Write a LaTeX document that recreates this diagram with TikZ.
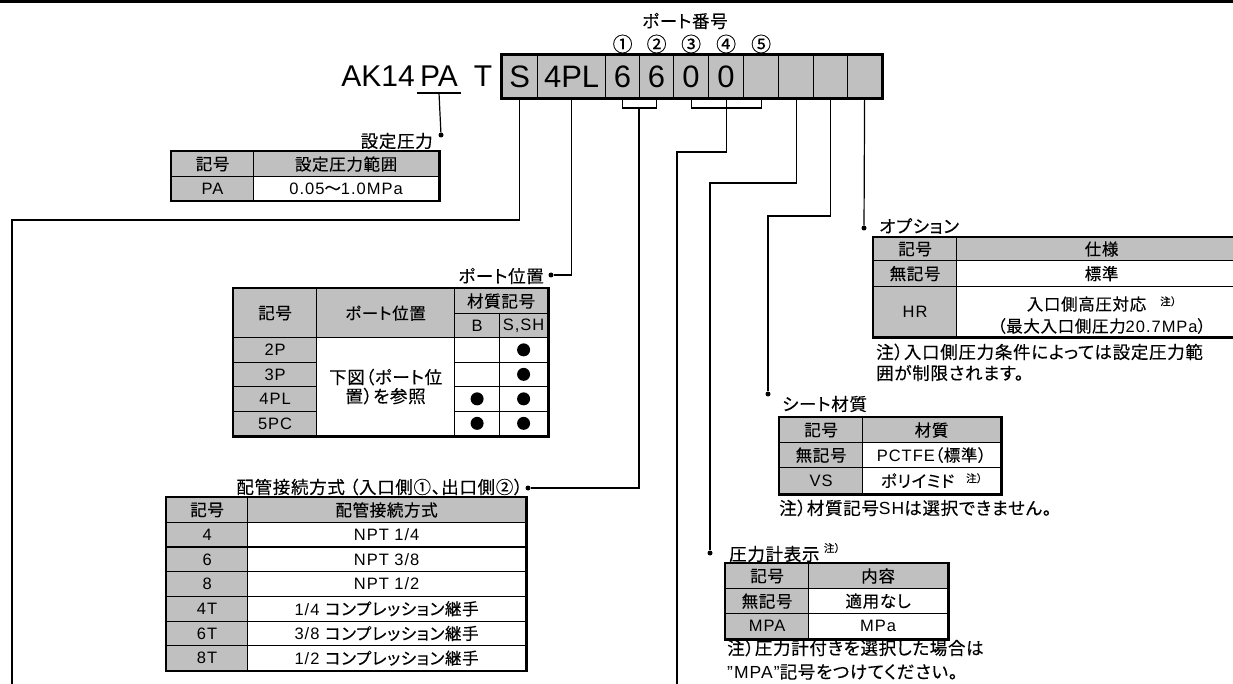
\documentclass[tikz,border=0pt]{standalone}
\usepackage{fontspec}
\setmainfont{Liberation Sans}[LetterSpace=6]
\newfontfamily\jp{Noto Sans CJK JP}[LetterSpace=4, RawFeature=+palt, FakeBold=0.3]
\newfontfamily\codefont{Liberation Sans}
\usetikzlibrary{positioning, calc}
\definecolor{boxgray}{HTML}{C0C0C0}

\begin{document}
\begin{tikzpicture}[
    x=1pt, y=-1pt,
    font=\fontsize{16.5}{20}\selectfont,
    hd/.style={draw, fill=boxgray, line width=1.2pt, inner sep=0pt, anchor=north west},
    td/.style={hd, fill=white},
    frame/.style={draw, line width=2.6pt},
    wire/.style={line width=1.2pt},
    blob/.style={circle, fill, inner sep=0pt, minimum size=13pt},
    pin/.style={circle, fill, inner sep=0pt, minimum size=5pt},
    lbl/.style={inner sep=0pt, font=\fontsize{17.5}{20}\selectfont\jp},
    note/.style={inner sep=0pt, font=\fontsize{10.5}{10}\selectfont\jp},
    code/.style={hd, minimum height=42pt, font=\fontsize{31}{31}\selectfont\codefont},
    big/.style={inner sep=0pt, anchor=base, font=\fontsize{30}{30}\selectfont\codefont},
]
\clip (0,0) rectangle (1233,684);
\fill (0,0) rectangle (1233,3);

% model code
\node[big] (ak) at (378,87) {AK14};
\node[big] (pa) at (439,87) {PA};
\node[big] (tt) at (483,87) {T};
\node[code, minimum width=36pt] (cs) at (501,55) {S};
\node[code, minimum width=68pt] (c4pl) at (537,55) {4PL};
\node[code, minimum width=34pt] (c1) at (605,55) {6};
\node[code, minimum width=34pt] (c2) at (639,55) {6};
\node[code, minimum width=35pt] (c3) at (673,55) {0};
\node[code, minimum width=35pt] (c4) at (708,55) {0};
\node[code, minimum width=35pt] (c5) at (743,55) {};
\node[code, minimum width=35pt] (c6) at (778,55) {};
\node[code, minimum width=34pt] (c7) at (813,55) {};
\node[code, minimum width=34pt] (c8) at (847,55) {};
\draw[line width=3pt] (cs.north west) rectangle (c8.south east);

\node[lbl] (tnum) at (685,21) {ポート番号};
\node[lbl, font=\fontsize{20}{20}\selectfont\jp] (n1) at (c1 |- 0,44) {①};
\node[lbl, font=\fontsize{20}{20}\selectfont\jp] (n2) at (c2 |- 0,44) {②};
\node[lbl, font=\fontsize{20}{20}\selectfont\jp] (n3) at (c3 |- 0,44) {③};
\node[lbl, font=\fontsize{20}{20}\selectfont\jp] (n4) at (c4 |- 0,44) {④};
\node[lbl, font=\fontsize{20}{20}\selectfont\jp] (n5) at (c5 |- 0,44) {⑤};

% set pressure
\node[pin] (dpa) at (441,135) {};
\node[lbl, anchor=east] (tset) at (433,141) {設定圧力};
\node[hd, minimum width=82pt, minimum height=25pt] (sk0) at (171,151) {\jp 記号};
\node[hd, minimum width=185pt, minimum height=25pt] (sv0) at (253,151) {\jp 設定圧力範囲};
\node[hd, minimum width=82pt, minimum height=24pt] (sk1) at (171,176) {PA};
\node[td, minimum width=185pt, minimum height=24pt] (sv1) at (253,176) {0.05{\jp 〜}1.0MPa};
\draw[frame] (sk0.north west) rectangle (sv1.south east);

% port position
\node[pin] (dport) at (551,275) {};
\node[lbl, anchor=east] (tport) at (544,276) {ポート位置};
\node[hd, minimum width=83pt, minimum height=49pt] (qk0) at (233,288) {\jp 記号};
\node[hd, minimum width=138pt, minimum height=49pt] (qv0) at (316,288) {\jp ポート位置};
\node[hd, minimum width=93pt, minimum height=25pt] (qm0) at (454,288) {\jp 材質記号};
\node[hd, minimum width=45pt, minimum height=24pt] (qb0) at (454,313) {B};
\node[hd, minimum width=48pt, minimum height=24pt] (qs0) at (499,313) {S,SH};
\foreach \k [count=\i] in {2P,3P,4PL,5PC}{
  \node[hd, minimum width=83pt, minimum height=24.5pt] (qk\i) at (233,312.5+24.5*\i) {\k};
  \node[td, minimum width=45pt, minimum height=24.5pt] (qb\i) at (454,312.5+24.5*\i) {};
  \node[td, minimum width=48pt, minimum height=24.5pt] (qs\i) at (499,312.5+24.5*\i) {};
  \node[blob] (qd\i) at (qs\i) {};
}
\node[td, minimum width=138pt, minimum height=98pt, align=center,
      font=\fontsize{17.5}{19}\selectfont] (qv1) at (316,337) {\jp 下図（ポート位\\\jp 置）を参照};
\node[blob] (qe3) at (qb3) {};
\node[blob] (qe4) at (qb4) {};
\draw[frame] (qk0.north west) rectangle (qs4.south east);

% piping
\node[pin] (dpipe) at (528,488) {};
\node[lbl, anchor=east] (tpipe) at (523,487) {配管接続方式 （入口側①、出口側②）};
\node[hd, minimum width=81pt, minimum height=24.7pt] (pk0) at (166,497) {\jp 記号};
\node[hd, minimum width=278pt, minimum height=24.7pt] (pv0) at (247,497) {\jp 配管接続方式};
\foreach \k/\v [count=\i] in {4/{NPT 1/4}, 6/{NPT 3/8}, 8/{NPT 1/2},
    4T/{1/4 {\jp コンプレッション継手}}, 6T/{3/8 {\jp コンプレッション継手}},
    8T/{1/2 {\jp コンプレッション継手}}}{
  \node[hd, minimum width=81pt, minimum height=24.7pt] (pk\i) at (166,497+24.7*\i) {\k};
  \node[td, minimum width=278pt, minimum height=24.7pt] (pv\i) at (247,497+24.7*\i) {\v};
}
\draw[frame] (pk0.north west) rectangle (pv6.south east);

% option
\node[pin] (dopt) at (864,228) {};
\node[lbl, anchor=west] (topt) at (879,226) {オプション};
\node[hd, minimum width=83pt, minimum height=23pt] (ok0) at (873,237) {\jp 記号};
\node[hd, minimum width=290pt, minimum height=23pt] (ov0) at (956,237) {\jp 仕様};
\node[hd, minimum width=83pt, minimum height=26pt] (ok1) at (873,260) {\jp 無記号};
\node[td, minimum width=290pt, minimum height=26pt] (ov1) at (956,260) {\jp 標準};
\node[hd, minimum width=83pt, minimum height=50pt] (ok2) at (873,286) {HR};
\node[td, minimum width=290pt, minimum height=50pt, align=center,
      font=\fontsize{16.5}{22}\selectfont] (ov2) at (956,286)
  {\rule{0pt}{21pt}{\jp 入口側高圧対応}\hspace{14pt}\raisebox{5pt}{\fontsize{10.5}{10}\selectfont\jp 注）}\\
   {\jp （最大入口側圧力}20.7MPa{\jp ）}};
\draw[frame] (ok0.north west) rectangle (ov2.south east);
\node[lbl, anchor=west] (nopt1) at (876,352) {注）入口側圧力条件によっては設定圧力範};
\node[lbl, anchor=west] (nopt2) at (876,373) {囲が制限されます。};

% seat material
\node[pin] (dsheet) at (768,394) {};
\node[lbl, anchor=west] (tsheet) at (782,404) {シート材質};
\node[hd, minimum width=83pt, minimum height=25pt] (mk0) at (779,417) {\jp 記号};
\node[hd, minimum width=138pt, minimum height=25pt] (mv0) at (862,417) {\jp 材質};
\node[hd, minimum width=83pt, minimum height=25pt] (mk1) at (779,442) {\jp 無記号};
\node[td, minimum width=138pt, minimum height=25pt] (mv1) at (862,442) {PCTFE{\jp （標準）}};
\node[hd, minimum width=83pt, minimum height=26pt] (mk2) at (779,467) {VS};
\node[td, minimum width=138pt, minimum height=26pt] (mv2) at (862,467)
  {{\jp ポリイミド}\hspace{12pt}\raisebox{5pt}{\fontsize{10.5}{10}\selectfont\jp 注）}};
\draw[frame] (mk0.north west) rectangle (mv2.south east);
\node[lbl, anchor=west] (nsheet) at (779,508) {注）材質記号{\rmfamily SH}は選択できません。};

% gauge
\node[pin] (dgauge) at (710,553) {};
\node[lbl, anchor=west] (tgauge) at (729,554) {圧力計表示};
\node[note, anchor=west] (ngauge) at ([xshift=4pt, yshift=6pt]tgauge.east) {注）};
\node[hd, minimum width=83pt, minimum height=25pt] (gk0) at (725,563) {\jp 記号};
\node[hd, minimum width=139pt, minimum height=25pt] (gv0) at (808,563) {\jp 内容};
\node[hd, minimum width=83pt, minimum height=25pt] (gk1) at (725,588) {\jp 無記号};
\node[td, minimum width=139pt, minimum height=25pt] (gv1) at (808,588) {\jp 適用なし};
\node[hd, minimum width=83pt, minimum height=25pt] (gk2) at (725,613) {MPA};
\node[td, minimum width=139pt, minimum height=25pt] (gv2) at (808,613) {MPa};
\draw[frame] (gk0.north west) rectangle (gv2.south east);
\node[lbl, anchor=west] (ngauge1) at (727,648) {注）圧力計付きを選択した場合は};
\node[lbl, anchor=west] (ngauge2) at (727,672) {{\rmfamily ”MPA”}記号をつけてください。};

% connectors
\coordinate (sturn) at (12,220);
\coordinate (send) at (12,690);
\coordinate (br1) at (639,108);
\coordinate (br2) at (c4.south |- 0,108);
\coordinate (pturn) at (677,152);
\coordinate (pend) at (677,690);
\coordinate (gturn) at (710,183);
\coordinate (mturn) at (768,216);
\draw[wire] ([xshift=-3pt, yshift=-6pt]pa.base west) -- ([xshift=3pt, yshift=-6pt]pa.base east);
\draw[wire] ([yshift=-6pt]pa.base) -- (dpa);
\draw[wire] (cs.south) |- (sturn) -- (send);
\draw[wire] (c4pl.south) |- (dport);
\draw[wire] (c1.south) |- (br1) -| (c2.south);
\draw[wire] (br1) |- (dpipe);
\draw[wire] (c3.south) |- (br2) -| (c5.south);
\draw[wire] (c4.south) |- (pturn) -- (pend);
\draw[wire] (c6.south) |- (gturn) -- (dgauge);
\draw[wire] (c7.south) |- (mturn) -- (dsheet);
\draw[wire] (c8.south) -- (dopt);
\end{tikzpicture}
\end{document}
